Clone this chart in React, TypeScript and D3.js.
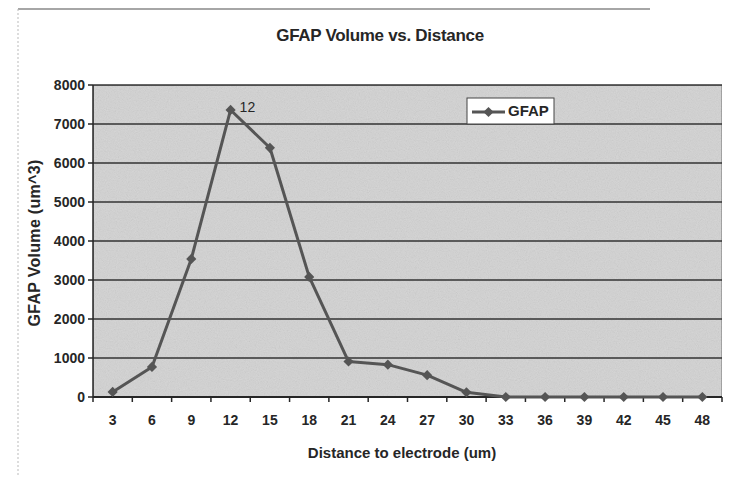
import React from 'react';
import * as d3 from 'd3';

const distances = ['3', '6', '9', '12', '15', '18', '21', '24', '27', '30', '33', '36', '39', '42', '45', '48'];
const gfapVolume = [130, 770, 3540, 7360, 6390, 3080, 910, 830, 560, 120, 0, 0, 0, 0, 0, 0];
const yTicks = [0, 1000, 2000, 3000, 4000, 5000, 6000, 7000, 8000];
const peakLabel = '12';

const width = 742;
const height = 481;
const margin = { top: 85, right: 20, bottom: 84, left: 93 };
const font = '"Liberation Sans", Arial, sans-serif';
const ink = '#262626';
const lineColor = '#555';

const App: React.FC = () => {
  const innerW = width - margin.left - margin.right;
  const innerH = height - margin.top - margin.bottom;

  const x = d3.scaleBand().domain(distances).range([0, innerW]).padding(0);
  const y = d3.scaleLinear().domain([0, 8000]).range([innerH, 0]);
  const cx = (d: string) => (x(d) || 0) + x.bandwidth() / 2;

  const line = d3
    .line<number>()
    .x((_, i) => cx(distances[i]))
    .y((d) => y(d));

  // square turned 45 degrees, like the spreadsheet diamond marker
  const diamond = d3.symbol().type(d3.symbolSquare).size(52)() || '';
  const peakIdx = gfapVolume.indexOf(d3.max(gfapVolume) as number);

  return (
    <svg width={width} height={height} style={{ position: 'absolute', left: 0, top: 0, background: '#fff' }}>
      <defs>
        <filter id="grain" x="0" y="0" width="100%" height="100%">
          <feTurbulence type="fractalNoise" baseFrequency="0.9" numOctaves="2" seed="3" result="n" />
          <feColorMatrix type="saturate" values="0" in="n" result="g" />
          <feComponentTransfer in="g" result="a">
            <feFuncA type="linear" slope="0.25" />
          </feComponentTransfer>
          <feComposite in="a" in2="SourceGraphic" operator="in" result="m" />
          <feBlend in="SourceGraphic" in2="m" mode="multiply" />
        </filter>
      </defs>
      {/* outer frame */}
      <line x1={18} x2={650} y1={9} y2={9} stroke="#888" strokeWidth={1.5} />
      <line x1={18} x2={18} y1={9} y2={475} stroke="#bbb" strokeWidth={1} strokeDasharray="2,2" />

      <text x={380} y={41} textAnchor="middle" fontFamily={font} fontWeight="bold" fontSize={17} fill={ink} letterSpacing={-0.3}>
        GFAP Volume vs. Distance
      </text>

      <g transform={`translate(${margin.left},${margin.top})`}>
        <rect width={innerW} height={innerH} fill="#d6d6d6" filter="url(#grain)" stroke="#777" strokeWidth={1} />
        {yTicks.map((t) => (
          <g key={t}>
            {t > 0 && (
              <line x1={0} x2={innerW} y1={y(t)} y2={y(t)} stroke="#333" strokeWidth={1.6} />
            )}
            <line x1={-5} x2={0} y1={y(t)} y2={y(t)} stroke={ink} strokeWidth={1.5} />
            <text x={-8} y={y(t)} dy="0.36em" textAnchor="end" fontFamily={font} fontWeight="bold" fontSize={14} fill={ink}>
              {t}
            </text>
          </g>
        ))}
        <line x1={0} x2={0} y1={0} y2={innerH} stroke={ink} strokeWidth={1.5} />
        <line x1={0} x2={innerW} y1={innerH} y2={innerH} stroke={ink} strokeWidth={2} />
        {distances.map((d) => (
          <g key={d}>
            <line x1={x(d) || 0} x2={x(d) || 0} y1={innerH} y2={innerH + 5} stroke={ink} strokeWidth={1.5} />
            <text x={cx(d)} y={innerH + 28} textAnchor="middle" fontFamily={font} fontWeight="bold" fontSize={14} fill={ink}>
              {d}
            </text>
          </g>
        ))}
        <line x1={innerW} x2={innerW} y1={innerH} y2={innerH + 5} stroke={ink} strokeWidth={1.5} />

        <path d={line(gfapVolume) || ''} fill="none" stroke={lineColor} strokeWidth={3} strokeLinejoin="round" />
        {gfapVolume.map((v, i) => (
          <path key={i} d={diamond} transform={`translate(${cx(distances[i])},${y(v)}) rotate(45)`} fill={lineColor} />
        ))}
        <text
          x={cx(distances[peakIdx]) + 9}
          y={y(gfapVolume[peakIdx]) + 2}
          fontFamily={font}
          fontSize={14}
          fill={ink}
        >
          {peakLabel}
        </text>

        {/* legend */}
        <g transform="translate(374,13)">
          <rect width={87} height={26} fill="#fff" stroke="#444" strokeWidth={1} />
          <line x1={5} x2={38} y1={14} y2={14} stroke={lineColor} strokeWidth={3} />
          <path d={diamond} transform="translate(21.5,14) rotate(45)" fill={lineColor} />
          <text x={41} y={13} dy="0.36em" fontFamily={font} fontWeight="bold" fontSize={15} fill={ink}>
            GFAP
          </text>
        </g>
      </g>

      <text
        transform={`translate(40,${margin.top + innerH / 2 + 2}) rotate(-90)`}
        textAnchor="middle"
        fontFamily={font}
        fontWeight="bold"
        fontSize={16}
        fill={ink}
        letterSpacing={0.3}
      >
        GFAP Volume (um^3)
      </text>
      <text x={402} y={458} textAnchor="middle" fontFamily={font} fontWeight="bold" fontSize={15} fill={ink}>
        Distance to electrode (um)
      </text>
    </svg>
  );
};

export default App;
